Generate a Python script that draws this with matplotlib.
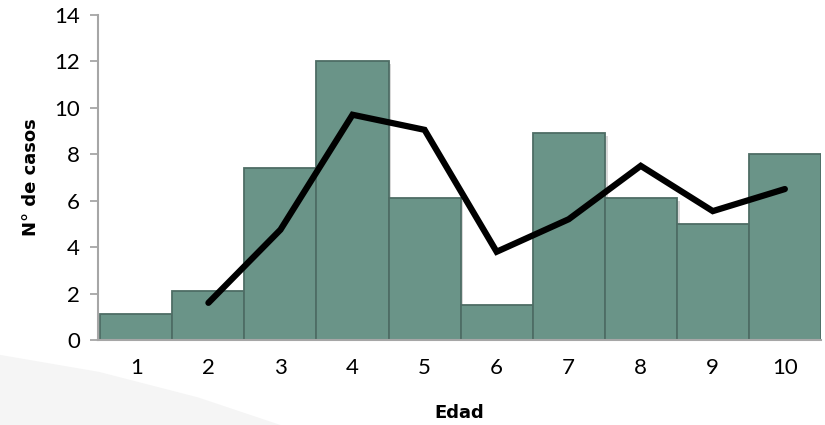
import matplotlib.pyplot as plt
from matplotlib.patches import Polygon

# number of cases per age group
edades = [1, 2, 3, 4, 5, 6, 7, 8, 9, 10]
casos = [1.1, 2.1, 7.4, 12.0, 6.1, 1.5, 8.9, 6.1, 5.0, 8.0]

# trend line (2-point moving average), starts at age 2
edades_media = [2, 3, 4, 5, 6, 7, 8, 9, 10]
media_movil = [1.6, 4.75, 9.7, 9.05, 3.8, 5.2, 7.5, 5.55, 6.5]

plt.rcParams['font.family'] = ['Lato', 'DejaVu Sans']

fig = plt.figure(figsize=(8.25, 4.25), dpi=100)

# light grey swoosh in the lower left corner
swoosh = Polygon([(0, 0), (0, 0.165), (0.12, 0.125), (0.24, 0.065), (0.34, 0)],
                 closed=True, transform=fig.transFigure,
                 facecolor='#f5f5f5', edgecolor='none', zorder=0)
fig.patches.append(swoosh)

ax = fig.add_axes([0.119, 0.2, 0.876, 0.765])
ax.patch.set_alpha(0)

# soft shadow behind the bars
ax.bar([e + 0.04 for e in edades], casos, width=1.0, bottom=-0.12,
       color='#d8d8d8', edgecolor='none', zorder=1)
ax.bar(edades, casos, width=1.0, color='#6a9488', edgecolor='#4e6d65',
       linewidth=1.3, zorder=2)
ax.plot(edades_media, media_movil, color='black', linewidth=4.5,
        solid_capstyle='round', solid_joinstyle='miter', zorder=3)

ax.set_xlim(0.47, 10.5)
ax.set_ylim(0, 14)
ax.set_yticks(range(0, 15, 2))
ax.set_xticks(edades)

for side in ['top', 'right']:
    ax.spines[side].set_visible(False)
for side in ['left', 'bottom']:
    ax.spines[side].set_color('#a6a6a6')
    ax.spines[side].set_linewidth(1.5)

ax.tick_params(axis='y', colors='#a6a6a6', labelcolor='black', length=6,
               width=1.3, labelsize=16, pad=7)
ax.tick_params(axis='x', length=0, labelsize=16, pad=13)

ax.set_xlabel('Edad', fontsize=13, fontweight='bold', family='DejaVu Sans',
              labelpad=19)
ax.set_ylabel('N° de casos', fontsize=13, fontweight='bold',
              family='DejaVu Sans', labelpad=10)

fig.savefig('out.png', dpi=100)
